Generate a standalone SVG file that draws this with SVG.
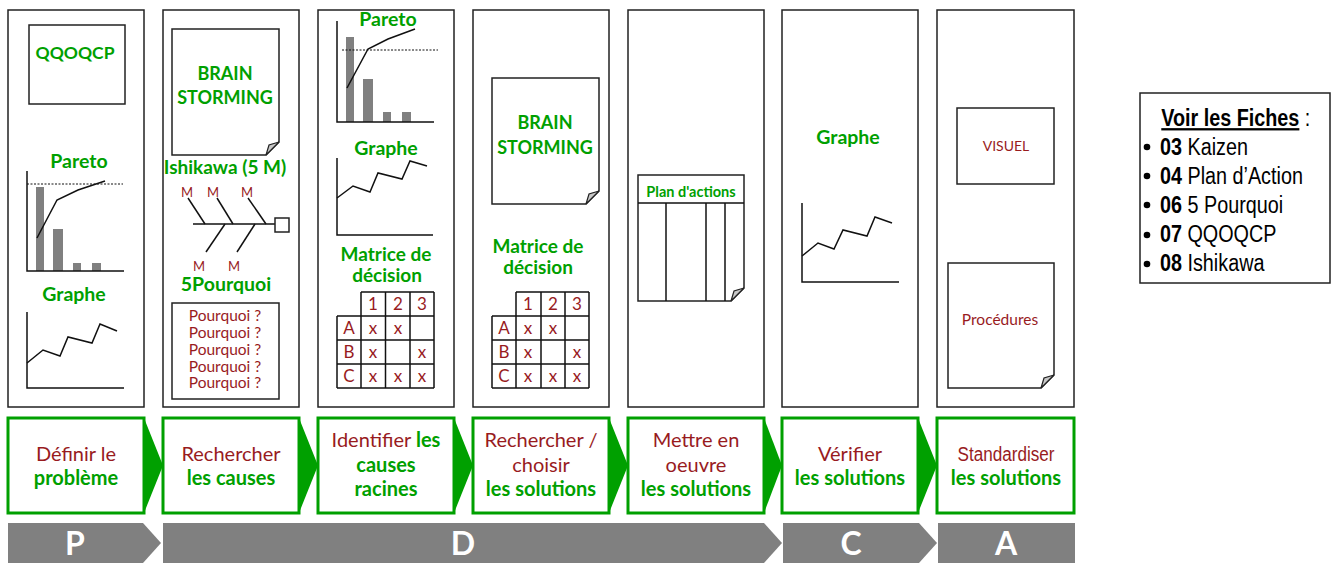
<svg xmlns="http://www.w3.org/2000/svg" xmlns:xlink="http://www.w3.org/1999/xlink" width="1332" height="566" viewBox="0 0 1332 566">
<style>
.col{fill:#fff;stroke:#222;stroke-width:1.5}
.box{fill:#fff;stroke:#222;stroke-width:1.5}
.ln{fill:none;stroke:#111;stroke-width:1.5}
.dash{fill:none;stroke:#111;stroke-width:1;stroke-dasharray:2 1.5}
.bar{fill:#808080}
.fold{fill:#c8c8c8;stroke:#222;stroke-width:1.2}
.gt{font-family:Lato,"Open Sans",sans-serif;font-weight:bold;fill:#00A000;text-anchor:middle}
.rt{font-family:Lato,"Open Sans",sans-serif;fill:#981B1E;text-anchor:middle}
.step{fill:#fff;stroke:#00A000;stroke-width:3}
.arr{fill:#00A000}
.sg{font-family:Lato,"Open Sans",sans-serif;font-size:20px;font-weight:bold;fill:#00A000;text-anchor:middle}
.sr{font-family:Lato,"Open Sans",sans-serif;font-size:20px;fill:#981B1E;text-anchor:middle}
.pd{fill:#808080}
.pdt{font-family:Lato,"Open Sans",sans-serif;font-size:32px;font-weight:bold;fill:#fff;text-anchor:middle}
.mx{font-family:Lato,"Open Sans",sans-serif;font-size:17px;fill:#981B1E;text-anchor:middle}
.lg{font-family:"Liberation Sans",Arial,sans-serif;font-size:23px;fill:#000}
</style>
<defs>
<g id="doc">
<path class="box" d="M0,0 H107 V113 L94,126 H0 Z"/>
<path class="fold" d="M94,126 L97,116 L107,113 Z"/>
</g>
</defs>

<!-- Column 1 -->
<g id="col1">
<rect class="col" x="8" y="10" width="136" height="397"/>
<rect class="box" x="29" y="25" width="96" height="79"/>
<text class="gt" x="75" y="59" font-size="17.5">QQOQCP</text>
<text class="gt" x="79" y="168" font-size="19.5">Pareto</text>
<rect class="bar" x="36" y="187" width="8" height="84"/>
<rect class="bar" x="53" y="229" width="10" height="42"/>
<rect class="bar" x="73" y="263" width="8" height="8"/>
<rect class="bar" x="92" y="263" width="9" height="8"/>
<line class="dash" x1="27" y1="184" x2="123" y2="184"/>
<polyline class="ln" points="37,238 57,200 78,190 105,181"/>
<polyline class="ln" points="27,171 27,271 124,271"/>
<text class="gt" x="74" y="301" font-size="19.5">Graphe</text>
<polyline class="ln" points="27,312 27,388 124,388"/>
<polyline class="ln" points="27,363 43,350 60,356 68,337 92,343 100,324 117,331"/>
</g>

<!-- Column 2 -->
<g id="col2">
<rect class="col" x="163" y="10" width="136" height="397"/>
<use xlink:href="#doc" href="#doc" x="172" y="29"/>
<text class="gt" x="225" y="80" font-size="18">BRAIN</text>
<text class="gt" x="225" y="104" font-size="18">STORMING</text>
<text class="gt" x="225" y="174" font-size="19">Ishikawa (5 M)</text>
<text class="rt" x="187" y="197" font-size="13">M</text>
<text class="rt" x="213" y="197" font-size="13">M</text>
<text class="rt" x="247" y="197" font-size="13">M</text>
<line class="ln" x1="188" y1="198" x2="205" y2="224"/>
<line class="ln" x1="217" y1="198" x2="233" y2="224"/>
<line class="ln" x1="248" y1="198" x2="266" y2="224"/>
<line class="ln" x1="193" y1="224" x2="275" y2="224"/>
<rect class="box" x="275" y="218" width="14" height="14"/>
<line class="ln" x1="225" y1="224" x2="206" y2="252"/>
<line class="ln" x1="255" y1="224" x2="237" y2="252"/>
<text class="rt" x="199" y="271" font-size="13">M</text>
<text class="rt" x="234" y="271" font-size="13">M</text>
<text class="gt" x="226" y="291" font-size="19.5">5Pourquoi</text>
<rect class="box" x="172" y="303" width="107" height="96"/>
<text class="rt" x="225" y="321" font-size="15.5">Pourquoi ?</text>
<text class="rt" x="225" y="338" font-size="15.5">Pourquoi ?</text>
<text class="rt" x="225" y="355" font-size="15.5">Pourquoi ?</text>
<text class="rt" x="225" y="372" font-size="15.5">Pourquoi ?</text>
<text class="rt" x="225" y="388" font-size="15.5">Pourquoi ?</text>
</g>

<!-- Column 3 -->
<g id="col3">
<rect class="col" x="318" y="10" width="136" height="397"/>
<text class="gt" x="388" y="26" font-size="19.5">Pareto</text>
<rect class="bar" x="346" y="37" width="8" height="85"/>
<rect class="bar" x="363" y="79" width="10" height="43"/>
<rect class="bar" x="383" y="112" width="8" height="10"/>
<rect class="bar" x="402" y="112" width="9" height="10"/>
<line class="dash" x1="342" y1="50" x2="438" y2="50"/>
<polyline class="ln" points="347,88 368,49 388,39 415,29"/>
<polyline class="ln" points="337,21 337,122 434,122"/>
<text class="gt" x="386" y="155" font-size="19.5">Graphe</text>
<polyline class="ln" points="337,158 337,235 433,235"/>
<polyline class="ln" points="337,198 353,186 370,192 378,173 402,179 410,161 427,166"/>
<text class="gt" x="386" y="261" font-size="19">Matrice de</text>
<text class="gt" x="387" y="282" font-size="19">décision</text>
<g>
<path class="ln" d="M361,292 H434 M337,316 H434 M337,340 H434 M337,364 H434 M337,388 H434 M337,316 V388 M361,292 V388 M385.5,292 V388 M410,292 V388 M434,292 V388"/>
<text class="mx" x="373" y="310">1</text><text class="mx" x="398" y="310">2</text><text class="mx" x="422" y="310">3</text>
<text class="mx" x="349" y="334">A</text><text class="mx" x="373" y="334">x</text><text class="mx" x="398" y="334">x</text>
<text class="mx" x="349" y="358">B</text><text class="mx" x="373" y="358">x</text><text class="mx" x="422" y="358">x</text>
<text class="mx" x="349" y="382">C</text><text class="mx" x="373" y="382">x</text><text class="mx" x="398" y="382">x</text><text class="mx" x="422" y="382">x</text>
</g>
</g>

<!-- Column 4 -->
<g id="col4">
<rect class="col" x="473" y="10" width="136" height="397"/>
<use xlink:href="#doc" href="#doc" x="492" y="78"/>
<text class="gt" x="545" y="129" font-size="18">BRAIN</text>
<text class="gt" x="545" y="154" font-size="18">STORMING</text>
<text class="gt" x="538" y="253" font-size="19">Matrice de</text>
<text class="gt" x="538" y="274" font-size="19">décision</text>
<g>
<path class="ln" d="M516,292 H589 M492,316 H589 M492,340 H589 M492,364 H589 M492,388 H589 M492,316 V388 M516,292 V388 M541,292 V388 M565,292 V388 M589,292 V388"/>
<text class="mx" x="528" y="310">1</text><text class="mx" x="553" y="310">2</text><text class="mx" x="577" y="310">3</text>
<text class="mx" x="504" y="334">A</text><text class="mx" x="528" y="334">x</text><text class="mx" x="553" y="334">x</text>
<text class="mx" x="504" y="358">B</text><text class="mx" x="528" y="358">x</text><text class="mx" x="577" y="358">x</text>
<text class="mx" x="504" y="382">C</text><text class="mx" x="528" y="382">x</text><text class="mx" x="553" y="382">x</text><text class="mx" x="577" y="382">x</text>
</g>
</g>

<!-- Column 5 -->
<g id="col5">
<rect class="col" x="628" y="10" width="136" height="397"/>
<path class="box" d="M638,175 H744 V288 L731,301 H638 Z"/>
<path class="fold" d="M731,301 L734,291 L744,288 Z"/>
<line class="ln" x1="638" y1="203" x2="744" y2="203"/>
<line class="ln" x1="666" y1="203" x2="666" y2="301"/>
<line class="ln" x1="706" y1="203" x2="706" y2="301"/>
<line class="ln" x1="725" y1="203" x2="725" y2="301"/>
<text class="gt" x="691" y="197" font-size="14.5">Plan d'actions</text>
</g>

<!-- Column 6 -->
<g id="col6">
<rect class="col" x="782" y="10" width="136" height="397"/>
<text class="gt" x="848" y="144" font-size="19.5">Graphe</text>
<polyline class="ln" points="802,203 802,282 899,282"/>
<polyline class="ln" points="802,256 818,243 834,249 843,230 867,236 875,217 892,223"/>
</g>

<!-- Column 7 -->
<g id="col7">
<rect class="col" x="937" y="10" width="137" height="397"/>
<rect class="box" x="957" y="108" width="97" height="76"/>
<text class="rt" x="1006" y="151" font-size="14">VISUEL</text>
<path class="box" d="M948,263 H1054 V375 L1041,388 H948 Z"/>
<path class="fold" d="M1041,388 L1044,378 L1054,375 Z"/>
<text class="rt" x="1000" y="325" font-size="15.5">Procédures</text>
</g>

<!-- Steps -->
<g id="step1"><rect class="step" x="8" y="418" width="136" height="95"/>
<text class="sr" x="76" y="461">Définir le</text><text class="sg" x="76" y="485">problème</text></g>
<g id="step2"><rect class="step" x="163" y="418" width="136" height="95"/>
<text class="sr" x="231" y="461">Rechercher</text><text class="sg" x="231" y="485">les causes</text></g>
<g id="step3"><rect class="step" x="318" y="418" width="136" height="95"/>
<text class="sr" x="386" y="447">Identifier <tspan class="sg" style="text-anchor:start">les</tspan></text><text class="sg" x="386" y="472">causes</text><text class="sg" x="386" y="496">racines</text></g>
<g id="step4"><rect class="step" x="473" y="418" width="136" height="95"/>
<text class="sr" x="541" y="447">Rechercher /</text><text class="sr" x="541" y="472">choisir</text><text class="sg" x="541" y="496">les solutions</text></g>
<g id="step5"><rect class="step" x="628" y="418" width="136" height="95"/>
<text class="sr" x="696" y="447">Mettre en</text><text class="sr" x="696" y="472">oeuvre</text><text class="sg" x="696" y="496">les solutions</text></g>
<g id="step6"><rect class="step" x="782" y="418" width="136" height="95"/>
<text class="sr" x="850" y="461">Vérifier</text><text class="sg" x="850" y="485">les solutions</text></g>
<g id="step7"><rect class="step" x="937" y="418" width="137" height="95"/>
<text class="sr" x="1006" y="461" textLength="97" lengthAdjust="spacingAndGlyphs" style="font-family:'Liberation Sans',sans-serif;font-size:20px">Standardiser</text><text class="sg" x="1006" y="485">les solutions</text></g>

<!-- Connectors -->
<g id="connectors">
<path class="arr" d="M144,418 L163,465.5 L144,513 Z"/>
<path class="arr" d="M299,418 L318,465.5 L299,513 Z"/>
<path class="arr" d="M454,418 L473,465.5 L454,513 Z"/>
<path class="arr" d="M609,418 L628,465.5 L609,513 Z"/>
<path class="arr" d="M764,418 L782,465.5 L764,513 Z"/>
<path class="arr" d="M918,418 L937,465.5 L918,513 Z"/>
</g>

<!-- PDCA -->
<g id="pdca">
<path class="pd" d="M8,523 H143 L161,543 L143,563 H8 Z"/>
<path class="pd" d="M163,523 H764 L782,543 L764,563 H163 Z"/>
<path class="pd" d="M783,523 H919 L937,543 L919,563 H783 Z"/>
<rect class="pd" x="938" y="523" width="137" height="40"/>
<text class="pdt" x="75" y="555">P</text>
<text class="pdt" x="463" y="555">D</text>
<text class="pdt" x="851" y="555">C</text>
<text class="pdt" x="1006" y="555">A</text>
</g>

<!-- Legend -->
<g id="legend">
<rect x="1140" y="93" width="190" height="190" fill="#fff" stroke="#222" stroke-width="1.5"/>
<circle cx="1147" cy="147" r="3.3" fill="#000"/>
<circle cx="1147" cy="176" r="3.3" fill="#000"/>
<circle cx="1147" cy="205" r="3.3" fill="#000"/>
<circle cx="1147" cy="235" r="3.3" fill="#000"/>
<circle cx="1147" cy="264" r="3.3" fill="#000"/>
<g transform="translate(1160,0) scale(0.86,1)">
<text class="lg" x="1.5" y="126"><tspan font-weight="bold" text-decoration="underline">Voir les Fiches</tspan> :</text>
<text class="lg" x="0" y="155"><tspan font-weight="bold">03</tspan> Kaizen</text>
<text class="lg" x="0" y="184"><tspan font-weight="bold">04</tspan> Plan d’Action</text>
<text class="lg" x="0" y="213"><tspan font-weight="bold">06</tspan> 5 Pourquoi</text>
<text class="lg" x="0" y="242"><tspan font-weight="bold">07</tspan> QQOQCP</text>
<text class="lg" x="0" y="271"><tspan font-weight="bold">08</tspan> Ishikawa</text>
</g>
</g>
</svg>
